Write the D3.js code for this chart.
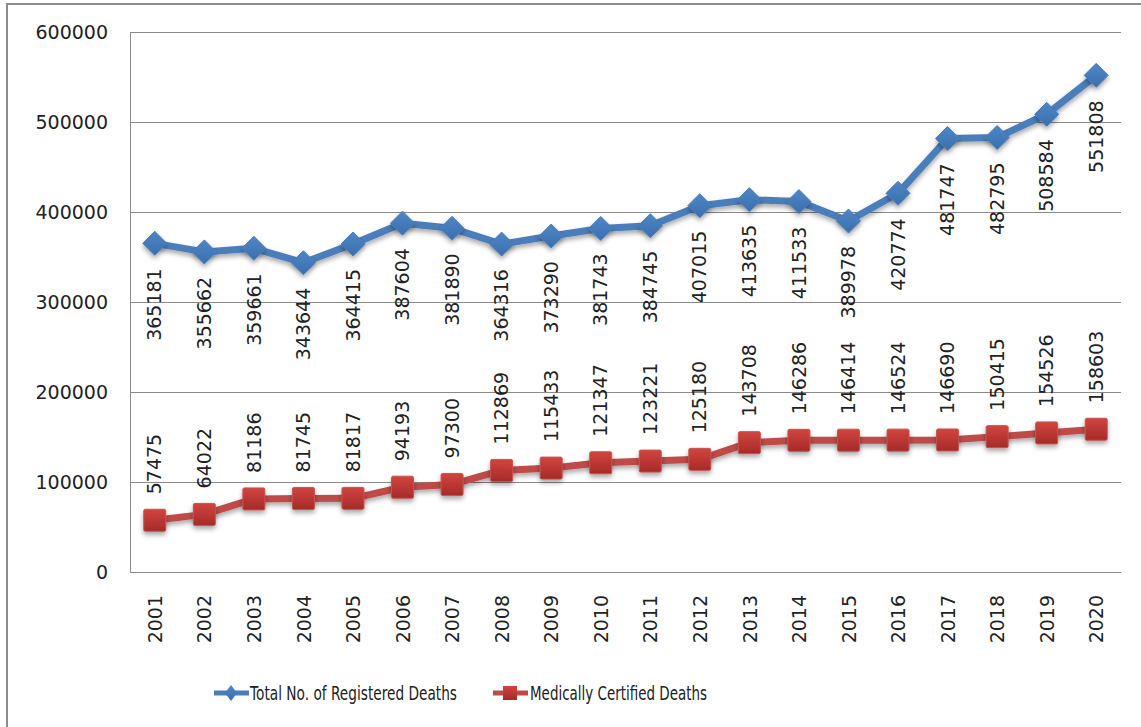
<html>
<head>
  <meta charset="UTF-8">
  <title>Registered and Medically Certified Deaths</title>
  <script src="https://d3js.org/d3.v7.min.js"></script>
  <style>
    body { margin: 0; background: white; }
    text { font-family: "DejaVu Sans", sans-serif; fill: #222; }
  </style>
</head>
<body>
<svg></svg>
<script>

    // Data

    const years = ["2001", "2002", "2003", "2004", "2005", "2006", "2007", "2008", "2009", "2010",
                   "2011", "2012", "2013", "2014", "2015", "2016", "2017", "2018", "2019", "2020"];

    const registered = [365181, 355662, 359661, 343644, 364415, 387604, 381890, 364316, 373290, 381743,
                        384745, 407015, 413635, 411533, 389978, 420774, 481747, 482795, 508584, 551808];

    const certified = [57475, 64022, 81186, 81745, 81817, 94193, 97300, 112869, 115433, 121347,
                       123221, 125180, 143708, 146286, 146414, 146524, 146690, 150415, 154526, 158603];

    const yTicks = [0, 100000, 200000, 300000, 400000, 500000, 600000];

    const seriesNames = ["Total No. of Registered Deaths", "Medically Certified Deaths"];

    // Setup

    const width = 1141;
    const height = 727;
    const margins = { top: 32, right: 20, bottom: 155, left: 130 };

    const chartWidth = width - margins.left - margins.right;
    const chartHeight = height - margins.top - margins.bottom;

    let svg = d3.select("svg")
                .attr("width", width)
                .attr("height", height);

    let defs = svg.append("defs");

    let shadow = defs.append("filter").attr("id", "shadow")
                     .attr("x", "-50%").attr("y", "-50%").attr("width", "200%").attr("height", "200%");
    shadow.append("feDropShadow").attr("dx", 0).attr("dy", 3).attr("stdDeviation", 2.5)
          .attr("flood-color", "#000").attr("flood-opacity", 0.35);

    let redGrad = defs.append("linearGradient").attr("id", "redGrad")
                      .attr("x1", 0).attr("y1", 0).attr("x2", 0).attr("y2", 1);
    redGrad.append("stop").attr("offset", "0%").attr("stop-color", "#d24540");
    redGrad.append("stop").attr("offset", "100%").attr("stop-color", "#a52a27");

    let blueGrad = defs.append("linearGradient").attr("id", "blueGrad")
                       .attr("x1", 0).attr("y1", 0).attr("x2", 0).attr("y2", 1);
    blueGrad.append("stop").attr("offset", "0%").attr("stop-color", "#4f86c6");
    blueGrad.append("stop").attr("offset", "100%").attr("stop-color", "#3a6fae");

    // Outer frame
    svg.append("rect")
       .attr("x", 7).attr("y", 4)
       .attr("width", width + 10).attr("height", height + 10)
       .attr("fill", "none")
       .attr("stroke", "#8c8c8c")
       .attr("stroke-width", 2);

    let chartArea = svg.append("g").attr("transform", `translate(${margins.left}, ${margins.top})`);

    // Scales

    const xScale = d3.scalePoint().domain(years)
                                  .range([0, chartWidth])
                                  .padding(0.5);

    const yScale = d3.scaleLinear().domain([0, 600000])
                                   .range([chartHeight, 0]);

    // Gridlines

    let leftGridlines = d3.axisLeft(yScale).tickValues(yTicks).tickFormat("").tickSize(-chartWidth);
    let grid = chartArea.append("g")
                        .attr("class", "y gridlines")
                        .call(leftGridlines);
    grid.select(".domain").remove();
    grid.selectAll("line").attr("stroke", "#8a8a8a").attr("stroke-width", 1);

    // Axes

    let leftAxis = d3.axisLeft(yScale).tickValues(yTicks).tickFormat(d => d).tickSize(0).tickPadding(22);
    let yAxis = chartArea.append("g").attr("class", "y axis").call(leftAxis);
    yAxis.select(".domain").attr("stroke", "#8a8a8a");
    yAxis.selectAll("text").style("font-size", "19px").style("font-family", "DejaVu Sans").attr("fill", "#222");

    let bottomAxis = d3.axisBottom(xScale).tickSize(0).tickPadding(0);
    let xAxis = chartArea.append("g")
                         .attr("class", "x axis")
                         .attr("transform", `translate(0, ${chartHeight})`)
                         .call(bottomAxis);
    xAxis.select(".domain").attr("stroke", "#8a8a8a");
    xAxis.selectAll("text")
         .style("font-size", "19px").style("font-family", "DejaVu Sans").attr("fill", "#222")
         .attr("transform", "rotate(-90)")
         .attr("text-anchor", "end")
         .attr("x", -23)
         .attr("y", 0)
         .attr("dy", "0.35em");

    // Lines

    const regPoints = years.map((y, i) => [xScale(y), yScale(registered[i])]);
    const certPoints = years.map((y, i) => [xScale(y), yScale(certified[i])]);

    const line = d3.line();

    chartArea.append("path")
             .attr("d", line(regPoints))
             .attr("fill", "none")
             .attr("stroke", "#4a7ebb")
             .attr("stroke-width", 7)
             .attr("stroke-linejoin", "round")
             .attr("filter", "url(#shadow)");

    chartArea.append("path")
             .attr("d", line(certPoints))
             .attr("fill", "none")
             .attr("stroke", "#be4b48")
             .attr("stroke-width", 7)
             .attr("stroke-linejoin", "round")
             .attr("filter", "url(#shadow)");

    // Markers

    const diamond = "M0,-12L12,0L0,12L-12,0Z";

    regPoints.forEach( (p) => {
        chartArea.append("path")
                 .attr("d", diamond)
                 .attr("transform", `translate(${p[0]}, ${p[1]})`)
                 .attr("fill", "url(#blueGrad)")
                 .attr("stroke", "#4a7ebb")
                 .attr("stroke-width", 1)
                 .attr("filter", "url(#shadow)");
    });

    certPoints.forEach( (p) => {
        chartArea.append("rect")
                 .attr("x", p[0] - 11).attr("y", p[1] - 11)
                 .attr("width", 22).attr("height", 22)
                 .attr("rx", 1.5)
                 .attr("fill", "url(#redGrad)")
                 .attr("stroke", "#c45450")
                 .attr("stroke-width", 1)
                 .attr("filter", "url(#shadow)");
    });

    // Data labels

    regPoints.forEach( (p, i) => {
        chartArea.append("text")
                 .attr("transform", `translate(${p[0]}, ${p[1] + 25}) rotate(-90)`)
                 .attr("text-anchor", "end")
                 .attr("dy", "0.35em")
                 .style("font-size", "19px")
                 .text(registered[i]);
    });

    certPoints.forEach( (p, i) => {
        chartArea.append("text")
                 .attr("transform", `translate(${p[0]}, ${p[1] - 26}) rotate(-90)`)
                 .attr("text-anchor", "start")
                 .attr("dy", "0.35em")
                 .style("font-size", "19px")
                 .text(certified[i]);
    });

    // Legend

    let legend = svg.append("g").attr("transform", "translate(0, 693)");

    legend.append("line").attr("x1", 214).attr("x2", 249).attr("y1", 0).attr("y2", 0)
          .attr("stroke", "#4a7ebb").attr("stroke-width", 5);
    legend.append("path").attr("d", "M0,-8L6,0L0,8L-6,0Z")
          .attr("transform", "translate(231, 0)").attr("fill", "url(#blueGrad)");
    legend.append("text").attr("x", 250).attr("y", 0).attr("dy", "0.36em")
          .attr("textLength", 207).attr("lengthAdjust", "spacingAndGlyphs")
          .style("font-size", "20px")
          .text(seriesNames[0]);

    legend.append("line").attr("x1", 493).attr("x2", 528).attr("y1", 0).attr("y2", 0)
          .attr("stroke", "#be4b48").attr("stroke-width", 5);
    legend.append("rect").attr("x", 503).attr("y", -7).attr("width", 14).attr("height", 14)
          .attr("fill", "url(#redGrad)");
    legend.append("text").attr("x", 530).attr("y", 0).attr("dy", "0.36em")
          .attr("textLength", 177).attr("lengthAdjust", "spacingAndGlyphs")
          .style("font-size", "20px")
          .text(seriesNames[1]);

</script>
</body>
</html>
